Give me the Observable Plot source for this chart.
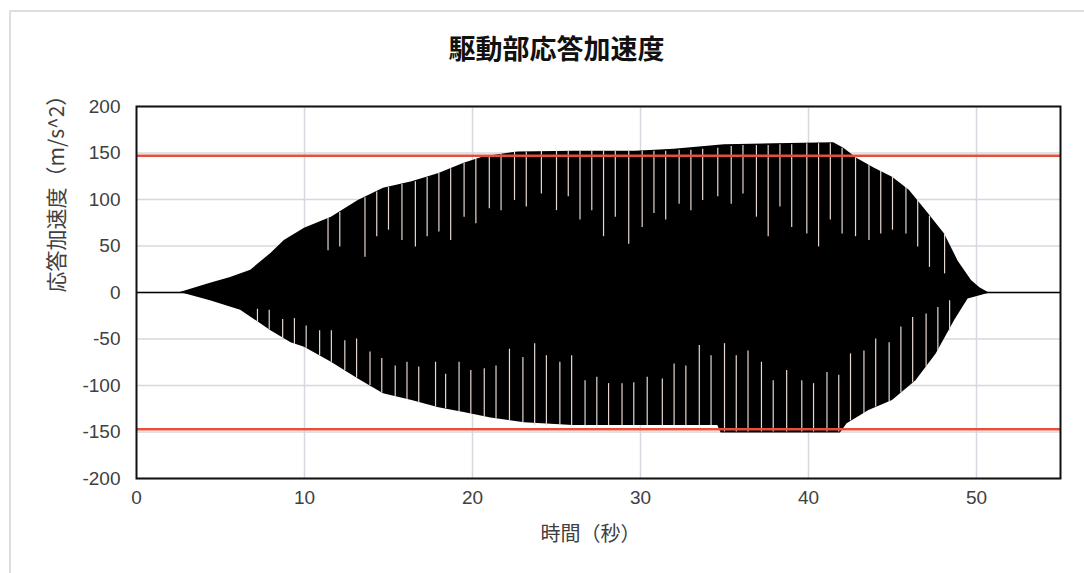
<!DOCTYPE html>
<html><head><meta charset="utf-8">
<script src="https://cdn.jsdelivr.net/npm/d3@7"></script>
<script src="https://cdn.jsdelivr.net/npm/@observablehq/plot@0.6"></script>
<style>
body{margin:0;background:#fff;}
#wrap{position:relative;width:1084px;height:573px;overflow:hidden;background:#fff;}
#border{position:absolute;left:9px;top:10px;width:1100px;height:620px;border-left:2px solid #dedede;border-top:2px solid #dedede;}
#chart{position:absolute;left:0;top:0;}
</style></head><body><div id="wrap"><div id="border"></div><div id="chart"></div></div>
<script>
const title = "駆動部応答加速度";
const xLabel = "時間（秒）";
const yLabel = "応答加速度（m/s^2）";
const xTicks = [0, 10, 20, 30, 40, 50];
const yTicks = [-200, -150, -100, -50, 0, 50, 100, 150, 200];
const limits = [147, -147];

// upper envelope of the response
const upperTime  = [0, 2.6, 4.4, 5.6, 6.8, 8.0, 8.8, 10, 11.6, 13.2, 14.7, 16.4, 18, 19.5, 20.7, 22.7, 26, 29.7, 32, 35, 38, 41.5, 42.1, 42.9, 43.9, 45, 46, 47, 48.1, 48.9, 49.7, 50.2, 50.7, 55];
const upperValue = [0, 0, 10, 16, 24, 42, 56, 69, 81, 99, 112, 119, 128, 139, 146, 151, 152, 152, 154, 159, 160, 161, 155, 144, 134, 124, 110, 88, 63, 34, 13, 5, 0, 0];
// lower envelope
const lowerTime  = [0, 2.6, 4.4, 6.2, 8.0, 9.2, 10, 11.6, 13.2, 14.7, 16.4, 18, 19.5, 21.1, 23.1, 26, 30, 34.6, 34.8, 38, 41.9, 42.3, 43.6, 45, 46.4, 47.6, 48.7, 49.5, 50.7, 55];
const lowerValue = [0, 0, -9, -19, -41, -54, -59, -75, -93, -109, -116, -124, -129, -135, -140, -143, -143, -143, -151, -151, -151, -141, -127, -116, -95, -66, -30, -7, -1, 0];

// light streaks seen inside the black band (upper side): time, outer end, inner end
const upStreakTime  = [11.4, 12.1, 13.6, 14.3, 15.0, 15.8, 16.6, 17.3, 18.0, 18.7, 19.5, 20.2, 21.0, 21.7, 22.5, 23.2, 24.1, 25.0, 25.7, 26.4, 27.1, 27.8, 28.5, 29.3, 30.1, 30.8, 31.5, 32.3, 33.0, 33.7, 34.6, 35.4, 36.1, 36.9, 37.6, 38.3, 39.0, 39.9, 40.6, 41.3, 42.0, 42.8, 43.6, 44.3, 45.0, 45.8, 46.5, 47.2, 48.1];
const upStreakOuter = [80, 86, 102, 108, 113, 116, 119, 124, 128, 133, 139, 143, 147, 149, 151, 151, 152, 152, 152, 152, 152, 152, 152, 152, 152, 152, 152, 153, 153, 154, 155, 157, 158, 158, 158, 159, 159, 160, 160, 160, 155, 145, 137, 130, 124, 113, 100, 82, 63];
const upStreakInner = [45, 49, 38, 60, 67, 56, 49, 60, 65, 56, 81, 74, 90, 88, 99, 92, 106, 88, 103, 78, 88, 60, 81, 52, 70, 85, 78, 95, 88, 99, 103, 95, 106, 81, 60, 92, 70, 63, 49, 78, 63, 60, 56, 63, 67, 63, 49, 27, 20];
// lower side
const loStreakTime  = [7.2, 7.9, 8.7, 9.4, 10.1, 10.9, 11.6, 12.4, 13.1, 13.9, 14.6, 15.4, 16.1, 16.8, 17.8, 18.4, 19.2, 19.9, 20.7, 21.4, 22.2, 23.0, 23.7, 24.4, 25.2, 25.9, 26.7, 27.4, 28.1, 28.9, 29.6, 30.4, 31.3, 32.0, 32.7, 33.5, 34.2, 35.0, 35.7, 36.4, 37.2, 37.9, 38.7, 39.6, 40.3, 41.1, 41.8, 42.5, 43.3, 44.0, 44.8, 45.5, 46.2, 47.0, 47.7, 48.4];
const loStreakOuter = [-33, -40, -50, -56, -60, -68, -75, -84, -92, -100, -108, -112, -115, -119, -123, -125, -128, -131, -134, -136, -138, -140, -143, -143, -143, -143, -143, -143, -143, -143, -143, -143, -143, -143, -143, -143, -143, -150, -150, -150, -150, -150, -150, -150, -150, -150, -150, -138, -130, -123, -118, -108, -97, -80, -63, -42];
const loStreakInner = [-18, -19, -29, -28, -36, -41, -41, -52, -50, -64, -71, -79, -75, -80, -75, -88, -75, -84, -82, -79, -61, -70, -55, -68, -75, -68, -95, -91, -98, -98, -97, -91, -93, -77, -79, -57, -68, -55, -68, -63, -75, -95, -84, -95, -98, -86, -89, -66, -63, -50, -54, -37, -27, -23, -16, -9];

const upper = upperTime.map((t, i) => ({t, v: upperValue[i]}));
const lower = lowerTime.map((t, i) => ({t, v: lowerValue[i]}));
const streaks = [
  ...upStreakTime.map((t, i) => ({t, a: upStreakOuter[i], b: upStreakInner[i]})),
  ...loStreakTime.map((t, i) => ({t, a: loStreakOuter[i], b: loStreakInner[i]}))
];

const chart = Plot.plot({
  width: 1084, height: 573,
  marginTop: 106, marginBottom: 95, marginLeft: 136, marginRight: 24,
  style: {fontFamily: "'Liberation Sans', 'Noto Sans CJK JP', sans-serif", fontSize: "19px", color: "#404040", background: "transparent"},
  x: {domain: [0, 55], ticks: xTicks, tickSize: 0, tickPadding: 12, label: null, tickFormat: d => String(d)},
  y: {domain: [-200, 200], ticks: yTicks, tickSize: 0, tickPadding: 16, label: null, tickFormat: d => String(d)},
  marks: [
    Plot.gridX(xTicks.filter(d => d > 0), {stroke: "#d5d8df", strokeOpacity: 1, strokeWidth: 1.5}),
    Plot.gridY(yTicks, {stroke: "#d5d8df", strokeOpacity: 1, strokeWidth: 1.5}),
    Plot.areaY(upper, {x: "t", y: "v", fill: "#000"}),
    Plot.areaY(lower, {x: "t", y: "v", fill: "#000"}),
    Plot.ruleX(streaks, {x: "t", y1: "a", y2: "b", stroke: "#e6d6cf", strokeWidth: 1.2}),
    Plot.ruleY([0], {stroke: "#000", strokeWidth: 1.5}),
    Plot.ruleY(limits, {stroke: "#e5503c", strokeWidth: 2.5}),
    Plot.frame({stroke: "#111", strokeWidth: 2}),
    Plot.text([title], {frameAnchor: "top", dx: -42, dy: -56, lineAnchor: "middle", fontSize: 27, fontWeight: "bold", fill: "#111", fontFamily: "'Noto Sans CJK JP', sans-serif"}),
    Plot.text([xLabel], {frameAnchor: "bottom", dx: -8, dy: 56, lineAnchor: "middle", fontSize: 20, fill: "#404040", fontFamily: "'Noto Sans CJK JP', sans-serif"}),
    Plot.text([yLabel], {frameAnchor: "left", dx: -79, rotate: -90, lineAnchor: "middle", fontSize: 21, fill: "#404040", fontFamily: "'Noto Sans CJK JP', sans-serif"})
  ]
});
document.getElementById("chart").appendChild(chart);
</script>
</body></html>
